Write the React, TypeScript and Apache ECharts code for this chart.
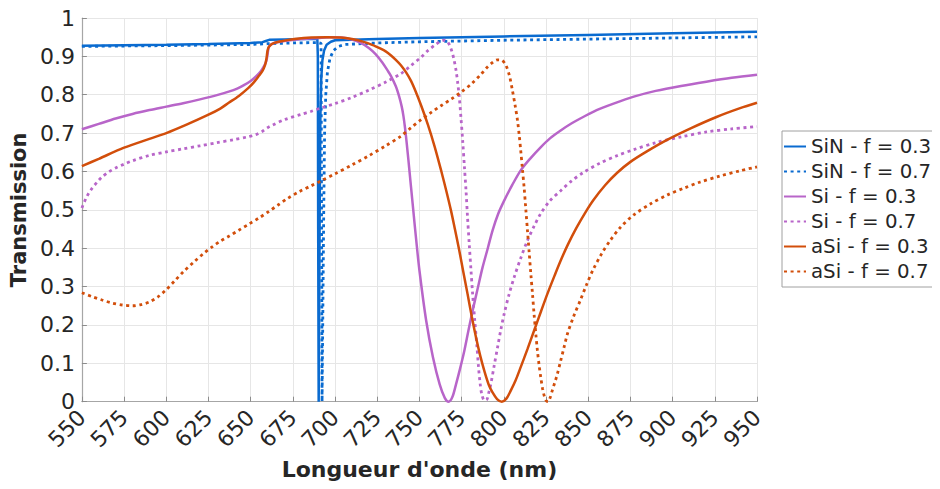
import React, { useEffect, useRef } from "react";
import * as echarts from "echarts";

const seriesNames = [
  "SiN - f = 0.3",
  "SiN - f = 0.7",
  "Si - f = 0.3",
  "Si - f = 0.7",
  "aSi - f = 0.3",
  "aSi - f = 0.7",
];

const xTicks = { min: 550, max: 950, step: 25 };
const yTicks = { min: 0, max: 1, step: 0.1 };

const sinF03: number[][] = [
  [550, 0.928], [575, 0.929], [600, 0.93], [625, 0.932], [650, 0.935], [657, 0.937],
  [659, 0.94], [661, 0.943], [670, 0.944], [680, 0.945], [689.5, 0.945], [689.8, 0.9],
  [690.0, 0.45], [690.3, 0.0], [690.5, 0.0], [690.9, 0.5], [691.3, 0.74], [691.8, 0.84],
  [692.5, 0.89], [693.5, 0.915], [695, 0.93], [697.5, 0.938], [700, 0.942], [725, 0.945],
  [750, 0.948], [775, 0.95], [800, 0.952], [850, 0.956], [900, 0.96], [950, 0.964],
];

const sinF07: number[][] = [
  [550, 0.926], [600, 0.928], [650, 0.931], [660, 0.933], [675, 0.935], [690, 0.936],
  [691.7, 0.934], [692.0, 0.5], [692.3, 0.0], [692.6, 0.0], [693.3, 0.5], [693.8, 0.7],
  [694.5, 0.8], [695.5, 0.86], [697, 0.895], [699, 0.915], [702, 0.926], [706, 0.931],
  [725, 0.935], [750, 0.938], [800, 0.942], [850, 0.945], [900, 0.948], [950, 0.951],
];

const siF03: number[][] = [
  [550, 0.71], [560, 0.724], [570, 0.738], [580, 0.75], [590, 0.76], [600, 0.769],
  [610, 0.778], [620, 0.788], [630, 0.799], [637, 0.808], [642, 0.816], [646, 0.825],
  [650, 0.836], [653, 0.847], [656, 0.861], [658, 0.875], [659.3, 0.888], [660, 0.905],
  [660.6, 0.922], [661.5, 0.929], [664, 0.935], [670, 0.94], [680, 0.945], [690, 0.948],
  [697, 0.95], [704, 0.949], [710, 0.944], [715, 0.936], [720, 0.922], [724, 0.906],
  [728, 0.884], [731, 0.864], [733, 0.85], [736, 0.822], [738, 0.795], [739.5, 0.769],
  [740.5, 0.745], [741.5, 0.712], [742.5, 0.672], [743.5, 0.628], [745, 0.56],
  [746.5, 0.492], [748, 0.425], [750, 0.342], [754, 0.211], [758, 0.116],
  [762, 0.045], [765, 0.01], [767.3, 0], [769.5, 0.012], [771.7, 0.046], [774, 0.085],
  [776.6, 0.133], [779, 0.185], [781.5, 0.237], [784.5, 0.295], [787.4, 0.35],
  [790.5, 0.4], [793.3, 0.446], [796.5, 0.488], [800.2, 0.524], [805, 0.565],
  [810, 0.603], [815.5, 0.633], [821.8, 0.663], [827.5, 0.687], [833.7, 0.707],
  [840, 0.725], [847, 0.742], [855, 0.76], [865, 0.777], [877, 0.795], [890, 0.81],
  [905, 0.823], [920, 0.834], [935, 0.844], [950, 0.852],
];

const siF07: number[][] = [
  [550, 0.505], [553, 0.535], [556, 0.556], [559, 0.572], [562, 0.586], [566, 0.599],
  [570, 0.609], [575, 0.619], [580, 0.628], [590, 0.642], [600, 0.651], [610, 0.659],
  [620, 0.667], [630, 0.675], [640, 0.683], [648, 0.69], [653, 0.696], [657, 0.705],
  [660, 0.714], [663, 0.721], [670, 0.735], [680, 0.749], [686, 0.757], [692, 0.766],
  [700, 0.777], [710, 0.793], [720, 0.812], [730, 0.833], [739, 0.855], [745, 0.876],
  [751, 0.898], [755, 0.915], [759, 0.929], [762, 0.938], [764.8, 0.942],
  [766.8, 0.937], [768.7, 0.92], [770.3, 0.895], [771.7, 0.863], [772.7, 0.83],
  [773.6, 0.794], [774.6, 0.74], [775.6, 0.681], [776.6, 0.615], [777.6, 0.55],
  [778.5, 0.48], [779.5, 0.411], [780.5, 0.345], [781.5, 0.281], [782.8, 0.21],
  [784.1, 0.142], [785, 0.09], [786, 0.046], [787, 0.018], [788.5, 0.003], [790, 0.006],
  [791, 0.022], [792.3, 0.046], [794.2, 0.092], [796.3, 0.142], [798.2, 0.187],
  [800.2, 0.229], [803, 0.278], [806.1, 0.324], [810, 0.374], [814, 0.42], [818, 0.458],
  [821.8, 0.49], [827, 0.522], [833.7, 0.55], [840, 0.575], [847, 0.597], [857, 0.622],
  [867, 0.641], [877, 0.657], [890, 0.675], [906, 0.691], [920, 0.703], [935, 0.711],
  [950, 0.717],
];

const aSiF03: number[][] = [
  [550, 0.614], [560, 0.633], [575, 0.662], [590, 0.685], [600, 0.7], [612, 0.722],
  [625, 0.748], [632, 0.764], [637, 0.779], [643, 0.797], [648.7, 0.818], [652, 0.833],
  [655, 0.85], [657, 0.862], [658.5, 0.877], [659.4, 0.895], [660, 0.915], [661, 0.926],
  [664, 0.935], [670, 0.941], [676, 0.945], [686, 0.949], [695, 0.95], [703, 0.949],
  [710, 0.945], [716, 0.939], [722, 0.93], [727, 0.92], [730, 0.913], [733, 0.903],
  [736, 0.891], [739, 0.877], [742, 0.859], [745, 0.836], [748, 0.806], [751, 0.772],
  [755, 0.722], [759, 0.665], [763, 0.6], [766, 0.548], [768.7, 0.498], [771, 0.45],
  [773.6, 0.394], [776, 0.338], [778.5, 0.281], [781, 0.222], [783.5, 0.168],
  [786, 0.12], [788.4, 0.081], [791, 0.045], [793.3, 0.024], [796, 0.007], [798.8, 0],
  [801.5, 0.008], [804.1, 0.029], [807, 0.056], [810, 0.09], [814, 0.137],
  [817.9, 0.185], [822, 0.235], [825.8, 0.281], [830, 0.328], [833.7, 0.368],
  [838, 0.41], [843, 0.453], [848, 0.491], [853, 0.525], [860, 0.564], [867, 0.596],
  [875, 0.625], [885, 0.653], [897, 0.683], [911, 0.713], [926, 0.742], [940, 0.765],
  [950, 0.779],
];

const aSiF07: number[][] = [
  [550, 0.284], [556, 0.274], [562, 0.265], [568, 0.257], [574, 0.252], [580, 0.25],
  [585, 0.253], [590, 0.26], [595, 0.273], [600, 0.292], [605, 0.315], [610, 0.338],
  [616.8, 0.366], [622, 0.386], [627, 0.403], [632, 0.418], [637, 0.431], [643, 0.447],
  [649, 0.463], [655, 0.479], [660.5, 0.495], [666, 0.512], [672, 0.53], [679, 0.548],
  [686, 0.563], [692, 0.576], [700, 0.594], [710, 0.617], [720, 0.641], [730, 0.667],
  [739, 0.692], [745, 0.714], [751, 0.735], [757, 0.754], [763, 0.772], [769, 0.789],
  [775, 0.808], [781, 0.829], [786.4, 0.853], [790, 0.871], [793.3, 0.884],
  [796.3, 0.891], [798.8, 0.89], [801.2, 0.877], [803.3, 0.85], [805.1, 0.811],
  [806.7, 0.772], [808.1, 0.733], [809.1, 0.695], [810, 0.655], [811, 0.607],
  [812, 0.559], [813, 0.503], [814, 0.446], [815, 0.39], [816, 0.333], [817, 0.28],
  [817.9, 0.229], [818.9, 0.179], [819.9, 0.133], [820.9, 0.095], [821.9, 0.063],
  [823, 0.033], [824.2, 0.011], [825.2, 0.002], [826.2, 0], [827.4, 0.01],
  [828.7, 0.029], [830.2, 0.05], [831.7, 0.072], [833.7, 0.107], [835.7, 0.142],
  [837.7, 0.177], [841.5, 0.224], [845.4, 0.265], [849, 0.305], [853, 0.345],
  [858, 0.386], [863, 0.42], [869, 0.454], [877, 0.487], [887, 0.516], [897, 0.539],
  [907, 0.557], [916, 0.572], [928, 0.588], [940, 0.602], [950, 0.612],
];

const seriesData = [sinF03, sinF07, siF03, siF07, aSiF03, aSiF07];
const colors = ["#0A6BD0", "#0A6BD0", "#B865C9", "#B865C9", "#D24E0B", "#D24E0B"];
const dotted = [false, true, false, true, false, true];
const smoothing = [0, 0, 0.3, 0.3, 0.3, 0.3];

const FONT = "DejaVu Sans";

export default function App() {
  const ref = useRef<HTMLDivElement>(null);
  useEffect(() => {
    if (!ref.current) return;
    const chart = echarts.init(ref.current, undefined, { renderer: "svg" });
    chart.setOption({
      animation: false,
      backgroundColor: "#ffffff",
      textStyle: { fontFamily: FONT },
      grid: { left: 80, top: 18, width: 677, height: 383.7 },
      legend: {
        orient: "vertical",
        left: 782,
        top: 131,
        data: seriesNames,
        itemWidth: 22,
        itemHeight: 14,
        itemGap: 4,
        padding: [5, 3, 5, 1],
        borderColor: "#a0a0a0",
        borderWidth: 1,
        backgroundColor: "#ffffff",
        itemStyle: { opacity: 0 },
        textStyle: { fontSize: 19.8, lineHeight: 21, color: "#262626", fontFamily: FONT },
      },
      xAxis: {
        type: "value",
        min: xTicks.min,
        max: xTicks.max,
        interval: xTicks.step,
        name: "Longueur d'onde (nm)",
        nameLocation: "middle",
        nameGap: 51,
        nameTextStyle: { fontSize: 22, fontWeight: "bold", color: "#262626", fontFamily: FONT },
        axisLine: { show: true, lineStyle: { color: "#a6a6a6", width: 1.2 } },
        axisTick: { show: true, inside: true, length: 5, lineStyle: { color: "#8c8c8c" } },
        axisLabel: { rotate: 45, fontSize: 22, color: "#262626", margin: 12, fontFamily: FONT },
        splitLine: { show: true, lineStyle: { color: "#e6e6e6", width: 1 } },
      },
      yAxis: {
        type: "value",
        min: yTicks.min,
        max: yTicks.max,
        interval: yTicks.step,
        name: "Transmission",
        nameLocation: "middle",
        nameGap: 48,
        nameTextStyle: { fontSize: 21, fontWeight: "bold", color: "#262626", fontFamily: FONT },
        axisLine: { show: true, lineStyle: { color: "#a6a6a6", width: 1.2 } },
        axisTick: { show: true, inside: true, length: 5, lineStyle: { color: "#8c8c8c" } },
        axisLabel: { fontSize: 22, color: "#262626", margin: 7, fontFamily: FONT },
        splitLine: { show: true, lineStyle: { color: "#e6e6e6", width: 1 } },
      },
      series: seriesNames.map((name, i) => ({
        name,
        type: "line",
        data: seriesData[i],
        symbol: "circle",
        showSymbol: false,
        smooth: smoothing[i],
        color: colors[i],
        lineStyle: {
          color: colors[i],
          width: dotted[i] ? 2.8 : 2.5,
          type: dotted[i] ? [3, 3.6] : "solid",
          cap: "butt",
        },
      })),
    });
    return () => chart.dispose();
  }, []);
  return <div ref={ref} style={{ width: 940, height: 489, marginLeft: -8, marginTop: -8 }} />;
}
